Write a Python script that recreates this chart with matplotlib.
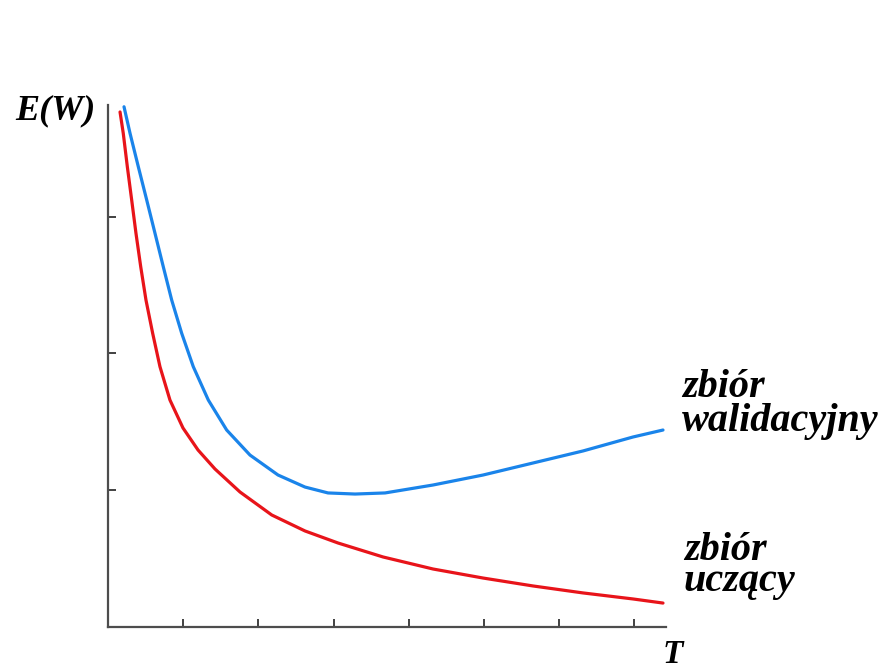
import matplotlib
matplotlib.use("Agg")
import matplotlib.pyplot as plt

# Data
t_train = [0.160, 0.203, 0.257, 0.315, 0.372, 0.435, 0.505, 0.594, 0.691, 0.824,
           0.997, 1.197, 1.423, 1.755, 2.177, 2.620, 3.059, 3.657, 4.322, 4.987,
           5.652, 6.317, 6.981, 7.380]
e_train = [3.765, 3.609, 3.365, 3.121, 2.878, 2.634, 2.390, 2.147, 1.903, 1.659,
           1.455, 1.294, 1.155, 0.987, 0.819, 0.702, 0.614, 0.512, 0.424, 0.358,
           0.300, 0.249, 0.205, 0.175]

t_val = [0.213, 0.293, 0.403, 0.515, 0.625, 0.735, 0.847, 0.980, 1.134, 1.334,
         1.578, 1.888, 2.261, 2.620, 2.926, 3.285, 3.684, 4.322, 4.987, 5.652,
         6.317, 6.981, 7.380]
e_val = [3.803, 3.609, 3.365, 3.121, 2.878, 2.634, 2.390, 2.147, 1.903, 1.659,
         1.440, 1.257, 1.111, 1.023, 0.980, 0.972, 0.980, 1.038, 1.111, 1.199,
         1.287, 1.389, 1.440]

x_ticks = [1, 2, 3, 4, 5, 6, 7]
y_ticks = [1, 2, 3]
y_label = "E(W)"
x_label = "T"
label_val = "zbiór\nwalidacyjny"
label_train = "zbiór\nuczący"

W, H = 883, 672
fig = plt.figure(figsize=(W / 100, H / 100), dpi=100)
ax = fig.add_axes([108 / W, (H - 627) / H, (666 - 108) / W, (627 - 105) / H])

ax.plot(t_val, e_val, color="#1a84ea", lw=2.3, solid_capstyle="round")
ax.plot(t_train, e_train, color="#e8141a", lw=2.3, solid_capstyle="round")

ax.set_xlim(0, 7.42)
ax.set_ylim(0, 3.816)
ax.set_xticks(x_ticks)
ax.set_yticks(y_ticks)
ax.set_xticklabels([])
ax.set_yticklabels([])
ax.tick_params(direction="in", length=6, width=1.3, color="#333333")
for s in ["top", "right"]:
    ax.spines[s].set_visible(False)
for s in ["left", "bottom"]:
    ax.spines[s].set_color("#4d4d4d")
    ax.spines[s].set_linewidth(1.6)

font = dict(family="Liberation Serif", weight="bold", style="italic", color="black")
fig.text(15 / W, 1 - 119 / H, y_label, fontsize=26, va="baseline", ha="left", **font)
fig.text(663 / W, 1 - 663 / H, x_label, fontsize=24, va="baseline", ha="left", **font)

fig.text(682 / W, 1 - 431 / H, label_val, fontsize=29, va="baseline", ha="left",
         linespacing=0.89, **font)
fig.text(684 / W, 1 - 591 / H, label_train, fontsize=29, va="baseline", ha="left",
         linespacing=0.79, **font)

fig.savefig("out.png", dpi=100, facecolor="white")
